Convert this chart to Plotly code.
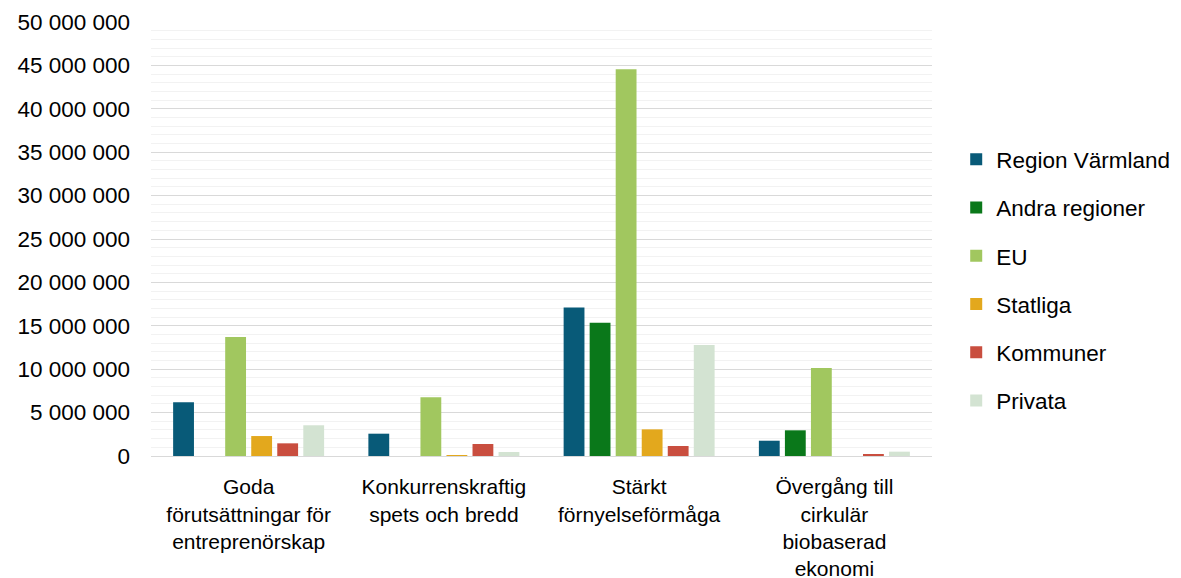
import plotly.graph_objects as go

categories = [
    "Goda<br>förutsättningar för<br>entreprenörskap",
    "Konkurrenskraftig<br>spets och bredd",
    "Stärkt<br>förnyelseförmåga",
    "Övergång till<br>cirkulär<br>biobaserad<br>ekonomi",
]

region_varmland = [6200000, 2570000, 17100000, 1760000]
andra_regioner = [0, 0, 15350000, 2960000]
eu = [13700000, 6760000, 44550000, 10140000]
statliga = [2300000, 50000, 3070000, 0]
kommuner = [1460000, 1380000, 1150000, 230000]
privata = [3540000, 460000, 12800000, 500000]

series = [
    ("Region Värmland", region_varmland, "#085a78"),
    ("Andra regioner", andra_regioner, "#0a781a"),
    ("EU", eu, "#a1c75f"),
    ("Statliga", statliga, "#e3a81d"),
    ("Kommuner", kommuner, "#c94e3f"),
    ("Privata", privata, "#d3e3d2"),
]

fig = go.Figure()
for name, vals, color in series:
    fig.add_trace(go.Bar(x=categories, y=vals, name=name, legendgroup=name,
                         marker=dict(color=color, line=dict(width=0))))

# page body has an 8px margin, so plot area offsets are shifted by that
fig.update_layout(
    width=1181, height=578,
    barmode="group", bargap=0.2, bargroupgap=0.2,
    margin=dict(l=143, r=257, t=14, b=130),
    plot_bgcolor="white", paper_bgcolor="white",
    font=dict(family="Liberation Sans, Arial", size=22, color="#000000"),
    separators=", ",
    legend=dict(x=1.031, y=0.405, yanchor="middle", xanchor="left",
                tracegroupgap=16, itemwidth=30, font=dict(size=22.5)),
    showlegend=True,
)
fig.update_yaxes(range=[0, 50000000], dtick=5000000, tickformat=",d",
                 tickfont=dict(size=22.5),
                 showgrid=True, gridcolor="#d9d9d9", gridwidth=1,
                 minor=dict(dtick=1000000, showgrid=True, gridcolor="#f2f2f2", gridwidth=1),
                 zeroline=False, ticks="", ticklabelstandoff=20, automargin=False)
fig.update_xaxes(showline=True, linecolor="#d9d9d9", linewidth=1, ticks="",
                 tickfont=dict(size=21), ticklabelstandoff=12,
                 tickangle=0, automargin=False)

fig.write_html("out.html")
